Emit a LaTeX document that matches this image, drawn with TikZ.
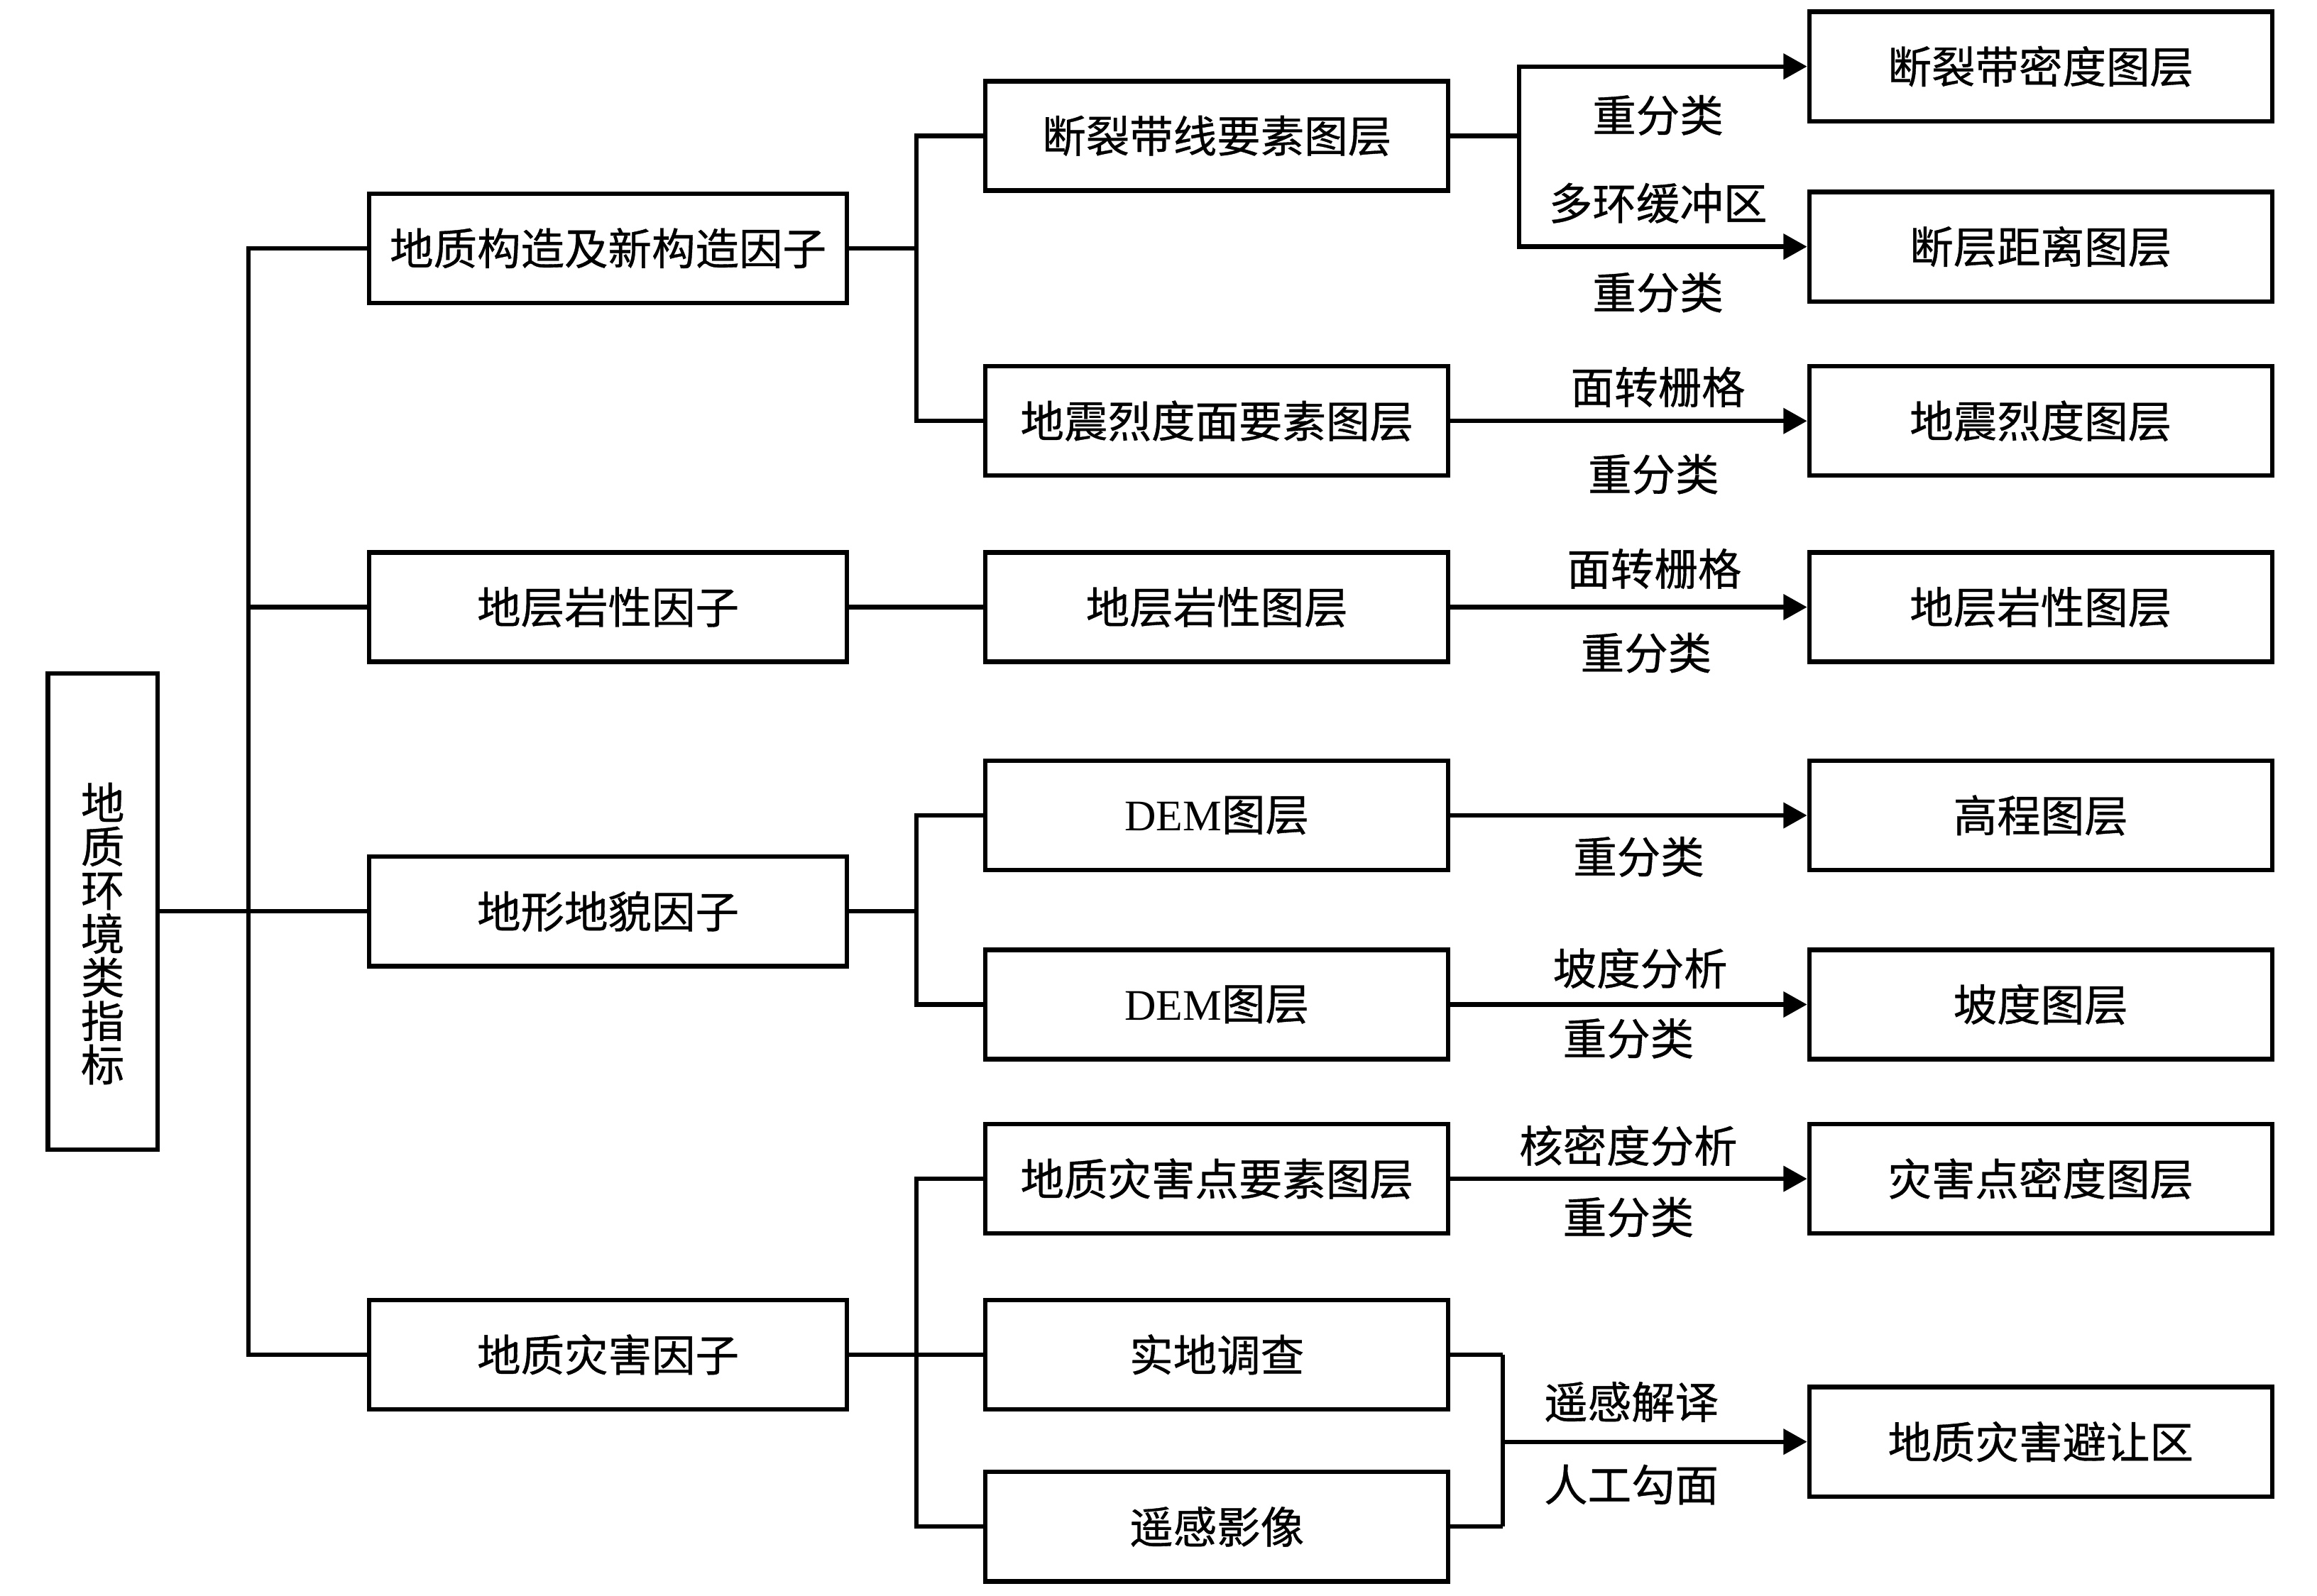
\documentclass[tikz,border=0pt]{standalone}
\usepackage{fontspec}
\setmainfont{Liberation Serif}
\newfontfamily\cjk{Noto Sans CJK SC}[FakeBold=0.6]
\usetikzlibrary{
  arrows.meta,
  chains,
  positioning,
  scopes
}

\begin{document}
\begin{tikzpicture}[
      x=0.01cm, y=-0.01cm,
      index/.style={
         rectangle,
         draw=black,
         minimum width=0.74cm,
         minimum height=3.22cm,
         inner sep=0pt
      },
      factor/.style={
         rectangle,
         draw=black,
         minimum width=3.23cm,
         minimum height=0.74cm,
         inner sep=0pt,
         font=\cjk\fontsize{8.4}{10}\selectfont
      },
      layer/.style={
         factor,
         minimum width=3.13cm
      },
      method/.style={
         inner sep=0pt,
         font=\cjk\fontsize{8.4}{10}\selectfont
      },
      point/.style={coordinate},>={Triangle[length=0.16cm,width=0.17cm]},line width=0.85pt,
      tip/.style={->},
      hv path/.style={to path={-| (\tikztotarget)}},
      vh path/.style={to path={|- (\tikztotarget)}}
    ]
    \useasboundingbox (0,0) rectangle (1568,1080);
    % index
    \node (n11) [index, label={[method, yshift=-0.15cm, align=center, font=\cjk\fontsize{8.4}{8.4}\selectfont]center:地\\质\\环\\境\\类\\指\\标}] at (69.5,617) {};
    % factors
    \node (n21) [factor] at (411.5,168) {地质构造及新构造因子};
    \node (n22) [factor] at (411.5,411) {地层岩性因子};
    \node (n23) [factor] at (411.5,617) {地形地貌因子};
    \node (n24) [factor] at (411.5,917) {地质灾害因子};
    % source layers
    \node (n31) [layer] at (823.5,92) {断裂带线要素图层};
    \node (n32) [layer] at (823.5,285) {地震烈度面要素图层};
    \node (n33) [layer] at (823.5,411) {地层岩性图层};
    \node (n34) [layer] at (823.5,552) {\textrm{DEM}图层};
    \node (n35) [layer] at (823.5,680) {\textrm{DEM}图层};
    \node (n36) [layer] at (823.5,798) {地质灾害点要素图层};
    \node (n37) [layer] at (823.5,917) {实地调查};
    \node (n38) [layer] at (823.5,1033.5) {遥感影像};
    % result layers
    \node (n41) [layer] at (1381,45) {断裂带密度图层};
    \node (n42) [layer] at (1381,167) {断层距离图层};
    \node (n43) [layer] at (1381,285) {地震烈度图层};
    \node (n44) [layer] at (1381,411) {地层岩性图层};
    \node (n45) [layer] at (1381,552) {高程图层};
    \node (n46) [layer] at (1381,680) {坡度图层};
    \node (n47) [layer] at (1381,798) {灾害点密度图层};
    \node (n48) [layer] at (1381,976) {地质灾害避让区};
    % branch points
    \node (p11) [point] at (168,617) {};
    \node (p21) [point] at (620,168) {};
    \node (p23) [point] at (620,617) {};
    \node (p24) [point] at (620,917) {};
    \node (p31) [point] at (1028,92) {};
    \node (p37) [point] at (1017,917) {};
    \node (p38) [point] at (1017,1033.5) {};
    \node (p48) [point] at (1017,976) {};
    % methods
    \node (m1) [method] at (1122,78) {重分类};
    \node (m2) [method] at (1122,137.5) {多环缓冲区};
    \node (m3) [method] at (1122,198) {重分类};
    \node (m4) [method] at (1122,262) {面转栅格};
    \node (m5) [method] at (1119,321) {重分类};
    \node (m6) [method] at (1119.5,385) {面转栅格};
    \node (m7) [method] at (1114,442) {重分类};
    \node (m8) [method] at (1109,580) {重分类};
    \node (m9) [method] at (1110,655.5) {坡度分析};
    \node (m10) [method] at (1102,703) {重分类};
    \node (m11) [method] at (1102,775.5) {核密度分析};
    \node (m12) [method] at (1102,824) {重分类};
    \node (m13) [method] at (1104,949) {遥感解译};
    \node (m14) [method] at (1104,1005) {人工勾面};
  { [start chain]
       \chainin (n11);
       \chainin (p11)    [join];
       \chainin (n23)    [join];
  }
  { [start chain]
       \chainin (p11);
       \chainin (n21)    [join=by vh path];
  }
  { [start chain]
       \chainin (p11);
       \chainin (n22)    [join=by vh path];
  }
  { [start chain]
       \chainin (p11);
       \chainin (n24)    [join=by vh path];
  }
  { [start chain]
       \chainin (n21);
       \chainin (p21)    [join];
       \chainin (n31)    [join=by vh path];
  }
  { [start chain]
       \chainin (p21);
       \chainin (n32)    [join=by vh path];
  }
  { [start chain]
       \chainin (n22);
       \chainin (n33)    [join];
  }
  { [start chain]
       \chainin (n23);
       \chainin (p23)    [join];
       \chainin (n34)    [join=by vh path];
  }
  { [start chain]
       \chainin (p23);
       \chainin (n35)    [join=by vh path];
  }
  { [start chain]
       \chainin (n24);
       \chainin (p24)    [join];
       \chainin (n37)    [join];
  }
  { [start chain]
       \chainin (p24);
       \chainin (n36)    [join=by vh path];
  }
  { [start chain]
       \chainin (p24);
       \chainin (n38)    [join=by vh path];
  }
  { [start chain]
       \chainin (n31);
       \chainin (p31)    [join];
       \chainin (n41)    [join=by {vh path,tip}];
  }
  { [start chain]
       \chainin (p31);
       \chainin (n42)    [join=by {vh path,tip}];
  }
  { [start chain]
       \chainin (n32);
       \chainin (n43)    [join=by tip];
  }
  { [start chain]
       \chainin (n33);
       \chainin (n44)    [join=by tip];
  }
  { [start chain]
       \chainin (n34);
       \chainin (n45)    [join=by tip];
  }
  { [start chain]
       \chainin (n35);
       \chainin (n46)    [join=by tip];
  }
  { [start chain]
       \chainin (n36);
       \chainin (n47)    [join=by tip];
  }
  { [start chain]
       \chainin (n37);
       \chainin (p37)    [join];
       \chainin (p38)    [join];
       \chainin (n38)    [join];
  }
  { [start chain]
       \chainin (p48);
       \chainin (n48)    [join=by tip];
  }
\end{tikzpicture}
\end{document}
